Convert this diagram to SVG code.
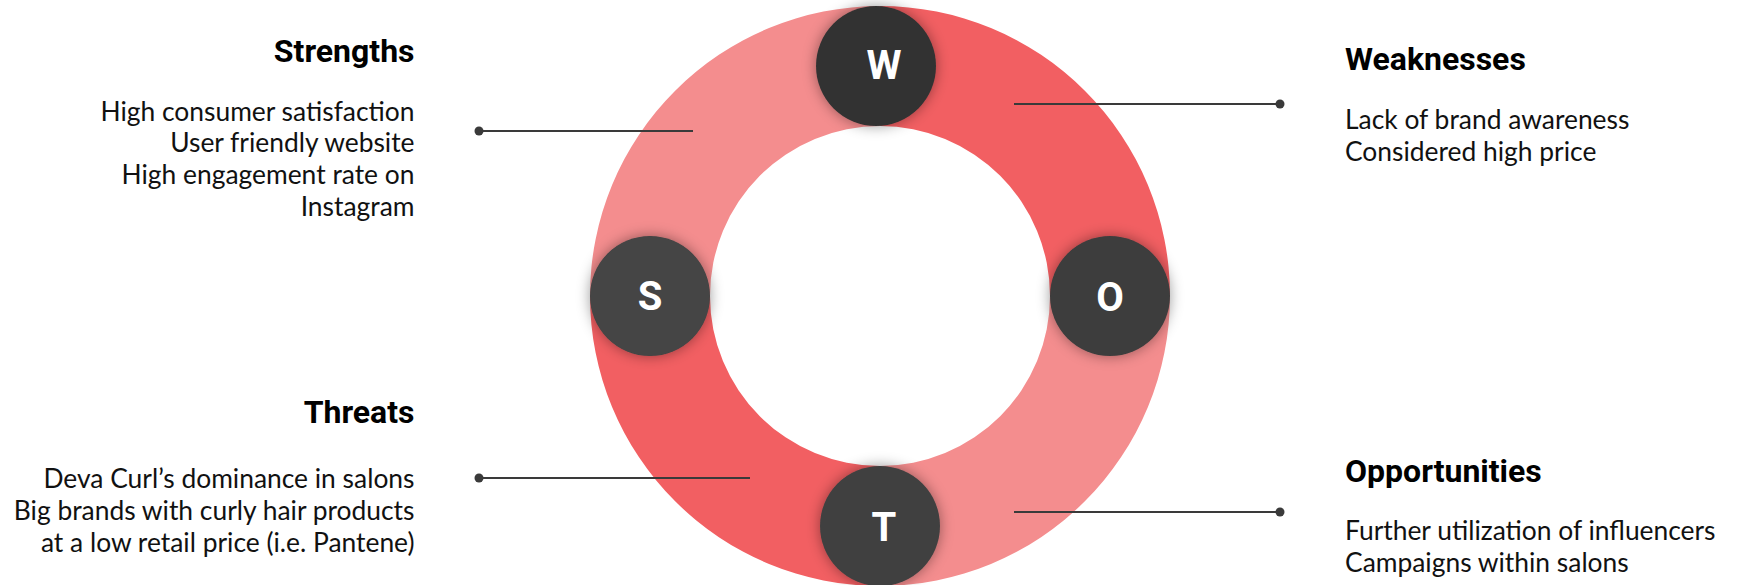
<svg xmlns="http://www.w3.org/2000/svg" width="1738" height="585" viewBox="0 0 1738 585">
  <style>
    .title { font-family: Roboto, "Liberation Sans", sans-serif; font-weight: 700; font-size: 32px; fill: #000; }
    .body { font-family: Lato, "Liberation Sans", sans-serif; font-weight: 400; font-size: 26.4px; fill: #111; }
    .light { fill: #F48D8E; }
    .dark { fill: #F25F62; }
    .badge-text { font-family: Roboto, "Liberation Sans", sans-serif; font-weight: 700; font-size: 40px; fill: #fff; text-anchor: middle; }
    .conn { stroke: #3a3a3a; stroke-width: 2; fill: none; }
    .dot { fill: #3a3a3a; }
  </style>
  <defs>
    <filter id="shadow" x="-40%" y="-40%" width="180%" height="180%">
      <feDropShadow dx="0" dy="0" stdDeviation="7" flood-color="#000" flood-opacity="0.4"/>
    </filter>
  </defs>
  <rect width="1738" height="585" fill="#fff"/>

  <g id="ring">
    <path class="light" d="M 880 6 A 290 290 0 0 0 590 296 L 710 296 A 170 170 0 0 1 880 126 Z"/>
    <path class="dark" d="M 880 6 A 290 290 0 0 1 1170 296 L 1050 296 A 170 170 0 0 0 880 126 Z"/>
    <path class="light" d="M 1170 296 A 290 290 0 0 1 880 586 L 880 466 A 170 170 0 0 0 1050 296 Z"/>
    <path class="dark" d="M 880 586 A 290 290 0 0 1 590 296 L 710 296 A 170 170 0 0 0 880 466 Z"/>
  </g>

  <g id="connectors">
    <line class="conn" x1="479" y1="131" x2="693" y2="131"/>
    <circle class="dot" cx="479" cy="131" r="4.5"/>
    <line class="conn" x1="1014" y1="104" x2="1280" y2="104"/>
    <circle class="dot" cx="1280" cy="104" r="4.5"/>
    <line class="conn" x1="479" y1="478" x2="750" y2="478"/>
    <circle class="dot" cx="479" cy="478" r="4.5"/>
    <line class="conn" x1="1014" y1="512" x2="1280" y2="512"/>
    <circle class="dot" cx="1280" cy="512" r="4.5"/>
  </g>

  <g id="node-w">
    <circle cx="876" cy="66" r="60" fill="#333333" filter="url(#shadow)"/>
    <text class="badge-text" x="884" y="79">W</text>
  </g>
  <g id="node-s">
    <circle cx="650" cy="296" r="60" fill="#444444" filter="url(#shadow)"/>
    <text class="badge-text" x="650" y="310">S</text>
  </g>
  <g id="node-o">
    <circle cx="1110" cy="296" r="60" fill="#3d3d3d" filter="url(#shadow)"/>
    <text class="badge-text" x="1110" y="311">O</text>
  </g>
  <g id="node-t">
    <circle cx="880" cy="526" r="60" fill="#414141" filter="url(#shadow)"/>
    <text class="badge-text" x="884" y="541">T</text>
  </g>

  <g id="strengths" text-anchor="end">
    <text class="title" x="414.5" y="62">Strengths</text>
    <text class="body" x="414.5" y="120.7">High consumer satisfaction</text>
    <text class="body" x="414.5" y="152.4">User friendly website</text>
    <text class="body" x="414.5" y="184.1">High engagement rate on</text>
    <text class="body" x="414.5" y="215.8">Instagram</text>
  </g>
  <g id="threats" text-anchor="end">
    <text class="title" x="414.5" y="423.3">Threats</text>
    <text class="body" x="414.5" y="488.3">Deva Curl’s dominance in salons</text>
    <text class="body" x="414.5" y="520">Big brands with curly hair products</text>
    <text class="body" x="414.5" y="551.7">at a low retail price (i.e. Pantene)</text>
  </g>
  <g id="weaknesses">
    <text class="title" x="1345" y="70">Weaknesses</text>
    <text class="body" x="1345" y="129">Lack of brand awareness</text>
    <text class="body" x="1345" y="161">Considered high price</text>
  </g>
  <g id="opportunities">
    <text class="title" x="1345" y="481.5">Opportunities</text>
    <text class="body" x="1345" y="540">Further utilization of influencers</text>
    <text class="body" x="1345" y="571.7">Campaigns within salons</text>
  </g>
</svg>
